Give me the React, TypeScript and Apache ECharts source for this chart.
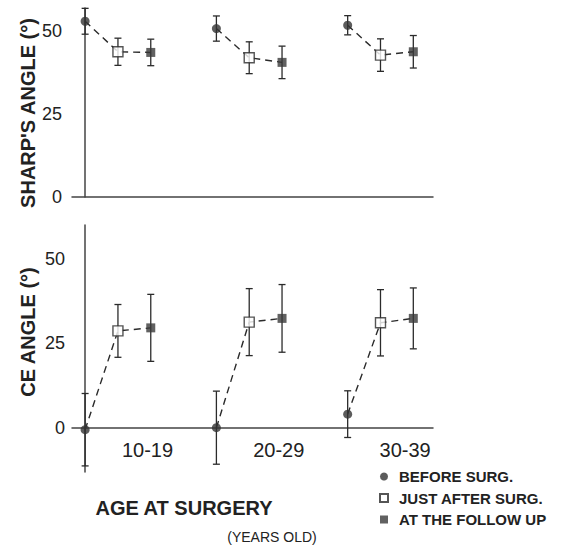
import React, { useEffect, useRef } from "react";
import * as echarts from "echarts";

const ageGroups = ["10-19", "20-29", "30-39"];
const phases = ["BEFORE SURG.", "JUST AFTER SURG.", "AT THE FOLLOW UP"];
const yTicks = [0, 25, 50];

const sharpBefore = [53.0, 50.8, 51.8];
const sharpBeforeSD = [3.9, 3.8, 2.9];
const sharpAfter = [43.8, 42.0, 42.8];
const sharpAfterSD = [4.1, 4.8, 4.9];
const sharpFollow = [43.6, 40.6, 43.8];
const sharpFollowSD = [4.0, 4.9, 4.9];

const ceBefore = [-0.5, 0.1, 4.1];
const ceBeforeSD = [10.7, 10.8, 6.9];
const ceAfter = [28.7, 31.3, 31.1];
const ceAfterSD = [7.8, 9.9, 9.8];
const ceFollow = [29.6, 32.4, 32.4];
const ceFollowSD = [9.9, 10.0, 9.0];

const INK = "#2b2b2b";
const FONT = "'Liberation Sans', Arial, Helvetica, sans-serif";

function xPos(group: number, phase: number) {
  return group * 4 + phase;
}

function buildPanel(
  gi: number,
  means: number[][],
  sds: number[][]
): any[] {
  const series: any[] = [];
  ageGroups.forEach((_, g) => {
    series.push({
      type: "line",
      name: "link-" + gi + "-" + g,
      xAxisIndex: gi,
      yAxisIndex: gi,
      data: [0, 1, 2].map((k) => [xPos(g, k), means[k][g]]),
      showSymbol: false,
      symbol: "none",
      lineStyle: { color: INK, width: 1.4, type: [7, 5] },
      z: 2,
      silent: true,
    });
  });
  const errData: number[][] = [];
  [0, 1, 2].forEach((k) => {
    ageGroups.forEach((_, g) => {
      errData.push([xPos(g, k), means[k][g] - sds[k][g], means[k][g] + sds[k][g]]);
    });
  });
  series.push({
    type: "custom",
    name: "err-" + gi,
    xAxisIndex: gi,
    yAxisIndex: gi,
    data: errData,
    encode: { x: 0, y: [1, 2] },
    z: 3,
    silent: true,
    renderItem: (params: any, api: any) => {
      const x = api.value(0);
      const lo = api.value(1);
      const hi = api.value(2);
      const p1 = api.coord([x, hi]);
      const p2 = api.coord([x, lo]);
      const w = 3.5;
      const st = { stroke: INK, lineWidth: 1.3 };
      return {
        type: "group",
        children: [
          { type: "line", shape: { x1: p1[0], y1: p1[1], x2: p2[0], y2: p2[1] }, style: st },
          { type: "line", shape: { x1: p1[0] - w, y1: p1[1], x2: p1[0] + w, y2: p1[1] }, style: st },
          { type: "line", shape: { x1: p2[0] - w, y1: p2[1], x2: p2[0] + w, y2: p2[1] }, style: st },
        ],
      };
    },
  });
  const styles = [
    { symbol: "circle", symbolSize: 9, itemStyle: { color: "#333" } },
    { symbol: "rect", symbolSize: 10, itemStyle: { color: "#ffffff", borderColor: INK, borderWidth: 1.4 } },
    { symbol: "rect", symbolSize: 9, itemStyle: { color: "#3a3a3a" } },
  ];
  [0, 1, 2].forEach((k) => {
    series.push({
      type: "scatter",
      name: phases[k],
      xAxisIndex: gi,
      yAxisIndex: gi,
      data: ageGroups.map((_, g) => [xPos(g, k), means[k][g]]),
      symbol: styles[k].symbol,
      symbolSize: styles[k].symbolSize,
      itemStyle: styles[k].itemStyle,
      z: 5,
    });
  });
  return series;
}

export default function App() {
  const ref = useRef<HTMLDivElement>(null);
  useEffect(() => {
    document.body.style.margin = "0";
    const chart = echarts.init(ref.current!, null, { renderer: "svg" });
    const axisLine = { show: true, onZero: true, lineStyle: { color: "#444", width: 1.5 } };
    const yLabel = (margin: number) => ({
      customValues: yTicks,
      margin,
      color: "#222",
      fontSize: 18,
      fontFamily: FONT,
      formatter: (v: number) => (v % 25 === 0 ? String(v) : ""),
    });
    const option: any = {
      animation: false,
      backgroundColor: "#ffffff",
      grid: [
        { left: 72, top: 8, width: 361, height: 189 },
        { left: 72, top: 225, width: 361, height: 247 },
      ],
      xAxis: [
        {
          type: "value",
          gridIndex: 0,
          min: -0.4,
          max: 10.6,
          axisLine,
          axisTick: { show: false },
          axisLabel: { show: false },
          splitLine: { show: false },
        },
        {
          type: "value",
          gridIndex: 1,
          min: -0.4,
          max: 10.6,
          axisLine,
          axisTick: { show: false },
          axisLabel: {
            customValues: [1.9, 5.9, 9.75],
            margin: -32,
            color: "#222",
            fontSize: 20,
            fontFamily: FONT,
            formatter: (v: number) => {
              const i = Math.round((v - 1.9) / 4);
              return ageGroups[i] ?? "";
            },
          },
          splitLine: { show: false },
        },
      ],
      yAxis: [
        {
          type: "value",
          gridIndex: 0,
          min: 0,
          max: 57,
          axisLine: { show: true, lineStyle: { color: "#444", width: 1.5 } },
          axisTick: { show: false, customValues: yTicks },
          axisLabel: yLabel(10),
          splitLine: { show: false },
        },
        {
          type: "value",
          gridIndex: 1,
          min: -13,
          max: 60,
          axisLine: { show: true, lineStyle: { color: "#444", width: 1.5 } },
          axisTick: { show: false, customValues: yTicks },
          axisLabel: yLabel(7),
          splitLine: { show: false },
        },
      ],
      legend: {
        orient: "vertical",
        left: 379,
        top: 469,
        padding: 0,
        itemGap: 6.5,
        itemWidth: 8,
        itemHeight: 8,
        textStyle: {
          color: "#222",
          fontSize: 15,
          fontWeight: "bold",
          fontFamily: FONT,
          lineHeight: 15,
          padding: [0, 0, 0, 6],
        },
        data: [
          { name: phases[0], icon: "circle" },
          { name: phases[1], icon: "rect" },
          { name: phases[2], icon: "rect" },
        ],
      },
      graphic: [
        {
          type: "text",
          x: 28,
          y: 113,
          rotation: Math.PI / 2,
          style: {
            text: "SHARP'S ANGLE (°)",
            fill: "#222",
            font: "bold 20px " + FONT,
            align: "center",
            verticalAlign: "middle",
          },
        },
        {
          type: "text",
          x: 28,
          y: 332,
          rotation: Math.PI / 2,
          style: {
            text: "CE ANGLE (°)",
            fill: "#222",
            font: "bold 20px " + FONT,
            align: "center",
            verticalAlign: "middle",
          },
        },
        {
          type: "text",
          x: 184,
          y: 508,
          style: {
            text: "AGE AT SURGERY",
            fill: "#222",
            font: "bold 20px " + FONT,
            align: "center",
            verticalAlign: "middle",
          },
        },
        {
          type: "text",
          x: 272,
          y: 537,
          style: {
            text: "(YEARS OLD)",
            fill: "#222",
            font: "14px " + FONT,
            align: "center",
            verticalAlign: "middle",
          },
        },
      ],
      series: [
        ...buildPanel(0, [sharpBefore, sharpAfter, sharpFollow], [sharpBeforeSD, sharpAfterSD, sharpFollowSD]),
        ...buildPanel(1, [ceBefore, ceAfter, ceFollow], [ceBeforeSD, ceAfterSD, ceFollowSD]),
      ],
    };
    chart.setOption(option);
    return () => chart.dispose();
  }, []);
  return (
    <div
      ref={ref}
      style={{ position: "absolute", left: 0, top: 0, width: 566, height: 546 }}
    />
  );
}
